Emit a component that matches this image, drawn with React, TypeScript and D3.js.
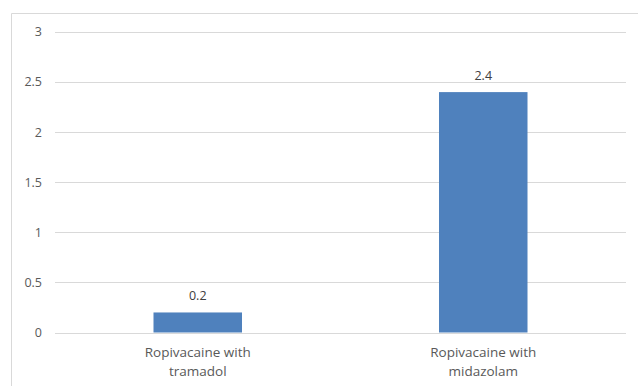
import React from "react";
import * as d3 from "d3";

const categories: string[][] = [
  ["Ropivacaine with", "tramadol"],
  ["Ropivacaine with", "midazolam"],
];
const values: number[] = [0.2, 2.4];
const yTicks: number[] = [0, 0.5, 1, 1.5, 2, 2.5, 3];

const W = 638;
const H = 386;
const plot = { left: 55, right: 626, top: 32, bottom: 332.5 };
const FONT = "'Open Sans', 'Liberation Sans', Arial, sans-serif";
const TEXT = "#595959";

export default function App() {
  const keys = categories.map((c) => c.join(" "));
  const x = d3
    .scaleBand<string>()
    .domain(keys)
    .range([plot.left, plot.right])
    .paddingInner(0.69)
    .paddingOuter(0.345);
  const y = d3.scaleLinear().domain([0, 3]).range([plot.bottom, plot.top]);

  return (
    <svg
      width={W}
      height={H}
      style={{ position: "absolute", left: 0, top: 0, background: "#fff" }}
      fontFamily={FONT}
    >
      {/* chart frame */}
      <line x1={11.5} x2={W} y1={13.5} y2={13.5} stroke="#D9D9D9" />
      <line x1={11.5} x2={11.5} y1={13.5} y2={H} stroke="#D9D9D9" />

      {/* gridlines and y labels */}
      {yTicks.map((t) => (
        <g key={t}>
          <line
            x1={plot.left}
            x2={plot.right}
            y1={Math.round(y(t)) + 0.5}
            y2={Math.round(y(t)) + 0.5}
            stroke="#D9D9D9"
          />
          <text
            x={42}
            y={y(t)}
            dy="0.35em"
            textAnchor="end"
            fontSize={12.5}
            fill={TEXT}
          >
            {d3.format("~g")(t)}
          </text>
        </g>
      ))}

      {/* bars with value labels */}
      {values.map((v, i) => {
        const k = keys[i];
        const bx = x(k)!;
        const bw = x.bandwidth();
        return (
          <g key={k}>
            <rect
              x={bx}
              y={y(v)}
              width={bw}
              height={y(0) - y(v)}
              fill="#4F81BD"
            />
            <text
              x={bx + bw / 2}
              y={y(v) - 12}
              textAnchor="middle"
              fontSize={12.5}
              fill="#404040"
            >
              {v}
            </text>
          </g>
        );
      })}

      {/* category labels */}
      {categories.map((lines, i) => {
        const cx = x(keys[i])! + x.bandwidth() / 2;
        return (
          <text
            key={keys[i]}
            x={cx}
            textAnchor="middle"
            fontSize={13.5}
            fill={TEXT}
          >
            {lines.map((l, j) => (
              <tspan key={j} x={cx} y={357 + j * 19}>
                {l}
              </tspan>
            ))}
          </text>
        );
      })}
    </svg>
  );
}
